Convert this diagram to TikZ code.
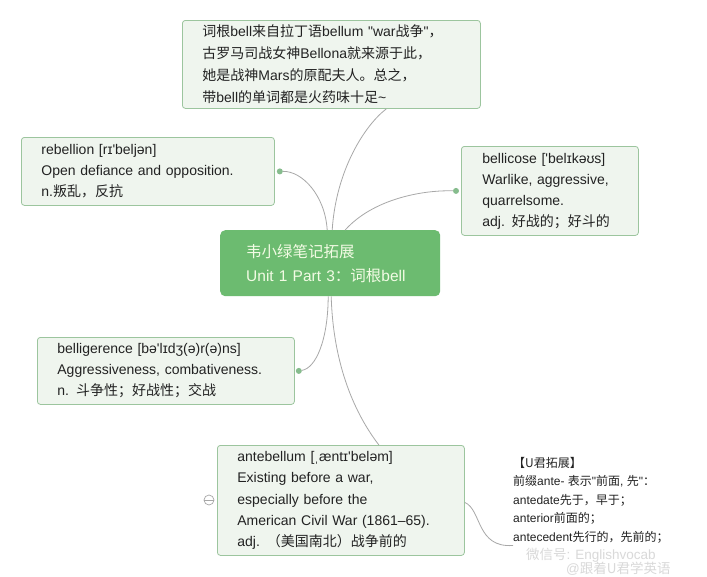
\documentclass[tikz,border=0pt]{standalone}
\usepackage{fontspec}
\setmainfont{Liberation Sans}[Ligatures=TeXOff]
\newfontfamily\cjkfont{Noto Sans CJK SC}
\newcommand\zh[1]{{\cjkfont #1}}
\definecolor{leafbg}{HTML}{EFF5EE}
\definecolor{leafline}{HTML}{9CC59E}
\definecolor{hubbg}{HTML}{6CBB70}
\definecolor{hubtext}{HTML}{F2FBE4}
\definecolor{linkgray}{HTML}{A8A8A8}
\definecolor{knobgreen}{HTML}{86BC8D}
\definecolor{ink}{HTML}{222222}

\begin{document}
\begin{tikzpicture}[x=1pt,y=-1pt,
  leaf/.style={draw=leafline,fill=leafbg,rounded corners=3pt,anchor=north west,
               align=left,inner xsep=20pt,inner ysep=2pt,text=ink,line width=0.8pt,
               font=\fontsize{14}{21}\selectfont},
  hub/.style={fill=hubbg,rounded corners=5pt,anchor=north west,align=left,
              inner xsep=26pt,text=hubtext,font=\fontsize{15.5}{24}\selectfont},
  knob/.style={circle,fill=knobgreen,inner sep=0pt,minimum size=6pt},
  link/.style={draw=linkgray,line width=0.8pt},
  memo/.style={anchor=north west,align=left,inner sep=0pt,text=ink,
               font=\fontsize{12}{18.5}\selectfont},
  watermk/.style={text=gray!30,inner sep=0pt}]

\useasboundingbox[fill=white] (0,0) rectangle (707,576);

\node[leaf,text width=258pt,minimum height=88pt,font=\fontsize{14}{22}\selectfont] (root) at (182,20)
  {\zh{词根}bell\zh{来自拉丁语}bellum "war\zh{战争}"\zh{，}\\
   \zh{古罗马司战女神}Bellona\zh{就来源于此，}\\
   \zh{她是战神}Mars\zh{的原配夫人。总之，}\\
   \zh{带}bell\zh{的单词都是火药味十足}\textasciitilde};
\node[leaf,text width=213pt,minimum height=68pt] (rebel) at (21,137)
  {rebellion [rɪ'beljən]\\ Open defiance and opposition.\\ n.\zh{叛乱，反抗}};
\node[leaf,text width=135pt,minimum height=89pt,inner xsep=21pt] (bcose) at (461,146)
  {bellicose ['belɪkəʊs]\\ Warlike, aggressive,\\ quarrelsome.\\ adj. \zh{好战的；好斗的}};
\node[hub,text width=168pt,minimum height=66pt] (hub) at (220,230)
  {\zh{韦小绿笔记拓展}\\ Unit 1 Part 3\zh{：词根}bell};
\node[leaf,text width=217pt,minimum height=67pt] (bgrnc) at (37,337)
  {belligerence [bə'lɪdʒ(ə)r(ə)ns]\\ Aggressiveness, combativeness.\\ n. \zh{斗争性；好战性；交战}};
\node[leaf,text width=207pt,minimum height=110pt,font=\fontsize{14}{21.3}\selectfont] (ante) at (217,445)
  {antebellum [ˌæntɪ'beləm]\\ Existing before a war,\\ especially before the\\
   American Civil War (1861–65).\\ adj. \zh{（美国南北）战争前的}};
\node[memo] (memo) at (513,457)
  {\zh{【U君拓展】}\\ \zh{前缀}ante- \zh{表示}"\zh{前面}, \zh{先}"\zh{：}\\ antedate\zh{先于，早于；}\\
   anterior\zh{前面的；}\\ antecedent\zh{先行的，先前的；}};

\node[knob] (k1) at ([xshift=5pt]rebel.east) {};
\node[knob] (k2) at ([xshift=-5pt]bcose.west) {};
\node[knob] (k3) at ([xshift=4pt]bgrnc.east) {};

\draw[link] ([xshift=2pt]hub.north) .. controls (336,170) and (365,125) .. ([xshift=55pt]root.south);
\draw[link] ([xshift=-3pt]hub.north) .. controls (325,195) and (302,171) .. (k1);
\draw[link] ([xshift=15pt]hub.north) .. controls (372,200) and (420,190) .. (k2);
\draw[link] ([xshift=-2pt]hub.south) .. controls (328,340) and (316,368) .. (k3);
\draw[link] ([xshift=1pt]hub.south) .. controls (333,360) and (352,410) .. ([xshift=38pt]ante.north);
\draw[link] ([yshift=-2pt]ante.east) .. controls (482,510) and (476,548) .. ([yshift=-2pt]memo.south west);

\node[circle,draw=gray!70,line width=0.7pt,minimum size=10pt,inner sep=0pt] (fold) at (209,500) {};
\draw[gray!70,line width=0.7pt] (fold.west) -- (fold.east);

\node[watermk,anchor=west,font=\fontsize{13.5}{13.5}\selectfont] (wx) at (526,555) {\zh{微信号}: Englishvocab};
\node[watermk,anchor=west,font=\fontsize{13.5}{13.5}\selectfont] (wb) at (566,569) {@\zh{跟着U君学英语}};
\end{tikzpicture}
\end{document}
